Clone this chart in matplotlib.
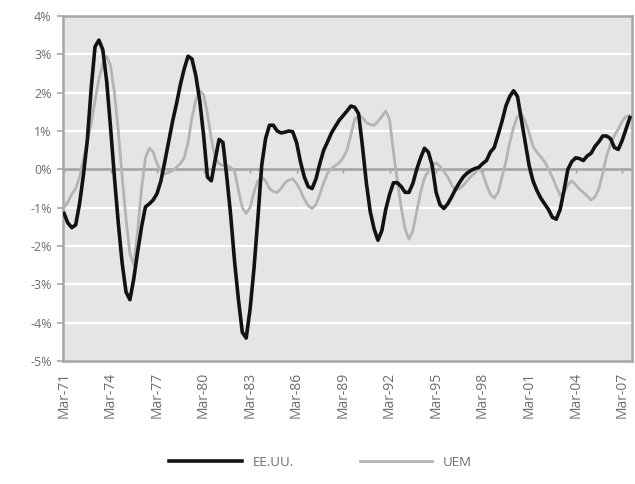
import matplotlib.pyplot as plt
import numpy as np

# quarterly series, Mar-71 .. Sep-07 (percent)
eeuu = [-1.15, -1.4, -1.52, -1.45, -0.9, -0.15, 0.75, 2.1, 3.2, 3.37,
        3.12, 2.3, 1.1, -0.2, -1.4, -2.45, -3.2, -3.4, -2.85, -2.15,
        -1.5, -0.98, -0.9, -0.8, -0.63, -0.3, 0.2, 0.72, 1.25, 1.7,
        2.2, 2.62, 2.95, 2.88, 2.45, 1.8, 0.9, -0.2, -0.3, 0.25,
        0.78, 0.7, -0.2, -1.2, -2.4, -3.4, -4.25, -4.4, -3.65, -2.6,
        -1.3, 0.1, 0.8, 1.15, 1.15, 1.0, 0.95, 0.97, 1.0, 0.98,
        0.7, 0.2, -0.2, -0.45, -0.5, -0.25, 0.15, 0.5, 0.72, 0.95,
        1.12, 1.28, 1.4, 1.52, 1.65, 1.62, 1.45, 0.6, -0.35, -1.1,
        -1.55, -1.85, -1.6, -1.05, -0.65, -0.35, -0.35, -0.45, -0.6, -0.6,
        -0.37, 0.0, 0.3, 0.55, 0.45, 0.1, -0.6, -0.92, -1.02, -0.9,
        -0.72, -0.52, -0.35, -0.2, -0.1, -0.03, 0.02, 0.05, 0.15, 0.23,
        0.45, 0.57, 0.9, 1.25, 1.65, 1.9, 2.05, 1.9, 1.3, 0.7,
        0.1, -0.3, -0.55, -0.75, -0.9, -1.05, -1.25, -1.3, -1.05, -0.55,
        0.0, 0.2, 0.3, 0.28, 0.23, 0.35, 0.42, 0.6, 0.72, 0.87,
        0.87, 0.8, 0.57, 0.52, 0.75, 1.05, 1.35]

uem = [-1.0, -0.85, -0.65, -0.5, -0.2, 0.25, 0.7, 1.2, 1.8, 2.35,
       2.75, 2.95, 2.7, 2.0, 1.0, -0.2, -1.3, -2.2, -2.5, -1.6,
       -0.5, 0.3, 0.55, 0.45, 0.15, -0.05, -0.12, -0.08, -0.03, 0.05,
       0.15, 0.3, 0.7, 1.35, 1.8, 2.05, 1.95, 1.45, 0.8, 0.3,
       0.15, 0.1, 0.1, 0.05, -0.05, -0.55, -1.0, -1.15, -1.0, -0.6,
       -0.3, -0.2, -0.3, -0.5, -0.58, -0.6, -0.5, -0.35, -0.28, -0.25,
       -0.37, -0.55, -0.78, -0.95, -1.02, -0.92, -0.65, -0.35, -0.1, 0.02,
       0.1, 0.17, 0.3, 0.5, 0.9, 1.3, 1.4, 1.35, 1.22, 1.17,
       1.15, 1.25, 1.38, 1.52, 1.3, 0.45, -0.3, -1.0, -1.55, -1.82,
       -1.6, -1.1, -0.6, -0.22, -0.05, 0.12, 0.17, 0.08, -0.05, -0.2,
       -0.4, -0.55, -0.5, -0.42, -0.3, -0.18, -0.1, 0.03, -0.1, -0.4,
       -0.65, -0.75, -0.6, -0.2, 0.2, 0.7, 1.1, 1.38, 1.45, 1.25,
       0.95, 0.6, 0.45, 0.33, 0.2, 0.0, -0.2, -0.45, -0.68, -0.6,
       -0.4, -0.3, -0.4, -0.52, -0.6, -0.7, -0.8, -0.72, -0.5, -0.1,
       0.35, 0.65, 0.88, 1.05, 1.25, 1.38, 1.4]

tick_years = ['71', '74', '77', '80', '83', '86', '89', '92', '95', '98', '01', '04', '07']
tick_labels = ['Mar-' + y for y in tick_years]
y_ticks = [4, 3, 2, 1, 0, -1, -2, -3, -4, -5]

plt.rcParams['font.family'] = ['Open Sans', 'DejaVu Sans']
txt = '#6e6e6e'
edge = '#a6a6a6'

fig = plt.figure(figsize=(6.35, 4.84), dpi=100)
ax = fig.add_axes([0.099, 0.254, 0.896, 0.713])
ax.set_facecolor('#e5e5e5')

x = np.arange(len(eeuu))
ax.plot(x, uem, color='#b4b4b4', lw=2.0, solid_joinstyle='round', label='UEM', zorder=3)
ax.plot(x, eeuu, color='#121212', lw=2.6, solid_joinstyle='round', label='EE.UU.', zorder=4)

ax.set_ylim(-5, 4)
ax.set_xlim(-0.3, len(eeuu) - 0.5)
ax.set_yticks(y_ticks)
ax.set_yticklabels([f'{v}%' for v in y_ticks], color=txt, fontsize=9)
for v in y_ticks:
    if v not in (4, -5):
        ax.axhline(v, color='white', lw=1.6, zorder=1)
ax.axhline(0, color=edge, lw=2, zorder=2)

ax.set_xticks(np.arange(0, len(eeuu), 12))
ax.set_xticklabels(tick_labels, rotation=90, color=txt, fontsize=10)
ax.tick_params(axis='x', length=0, pad=8)
ax.tick_params(axis='y', length=4, color=edge, width=1.2, pad=4)

# small category ticks hanging off the zero line
sec = ax.secondary_xaxis(0, transform=ax.transData)
sec.set_xticks(np.arange(0, len(eeuu), 12))
sec.set_xticklabels([])
sec.tick_params(length=3, color='#9a9a9a', width=1)
sec.spines['bottom'].set_visible(False)

for s in ax.spines.values():
    s.set_color(edge)
    s.set_linewidth(1.8)

h, l = ax.get_legend_handles_labels()
fig.legend(h[::-1], l[::-1], loc='center', bbox_to_anchor=(0.505, 0.045), ncol=2,
           frameon=False, fontsize=9.5, handlelength=5.5, columnspacing=5,
           labelcolor=txt)

fig.savefig('out.png', dpi=100)
